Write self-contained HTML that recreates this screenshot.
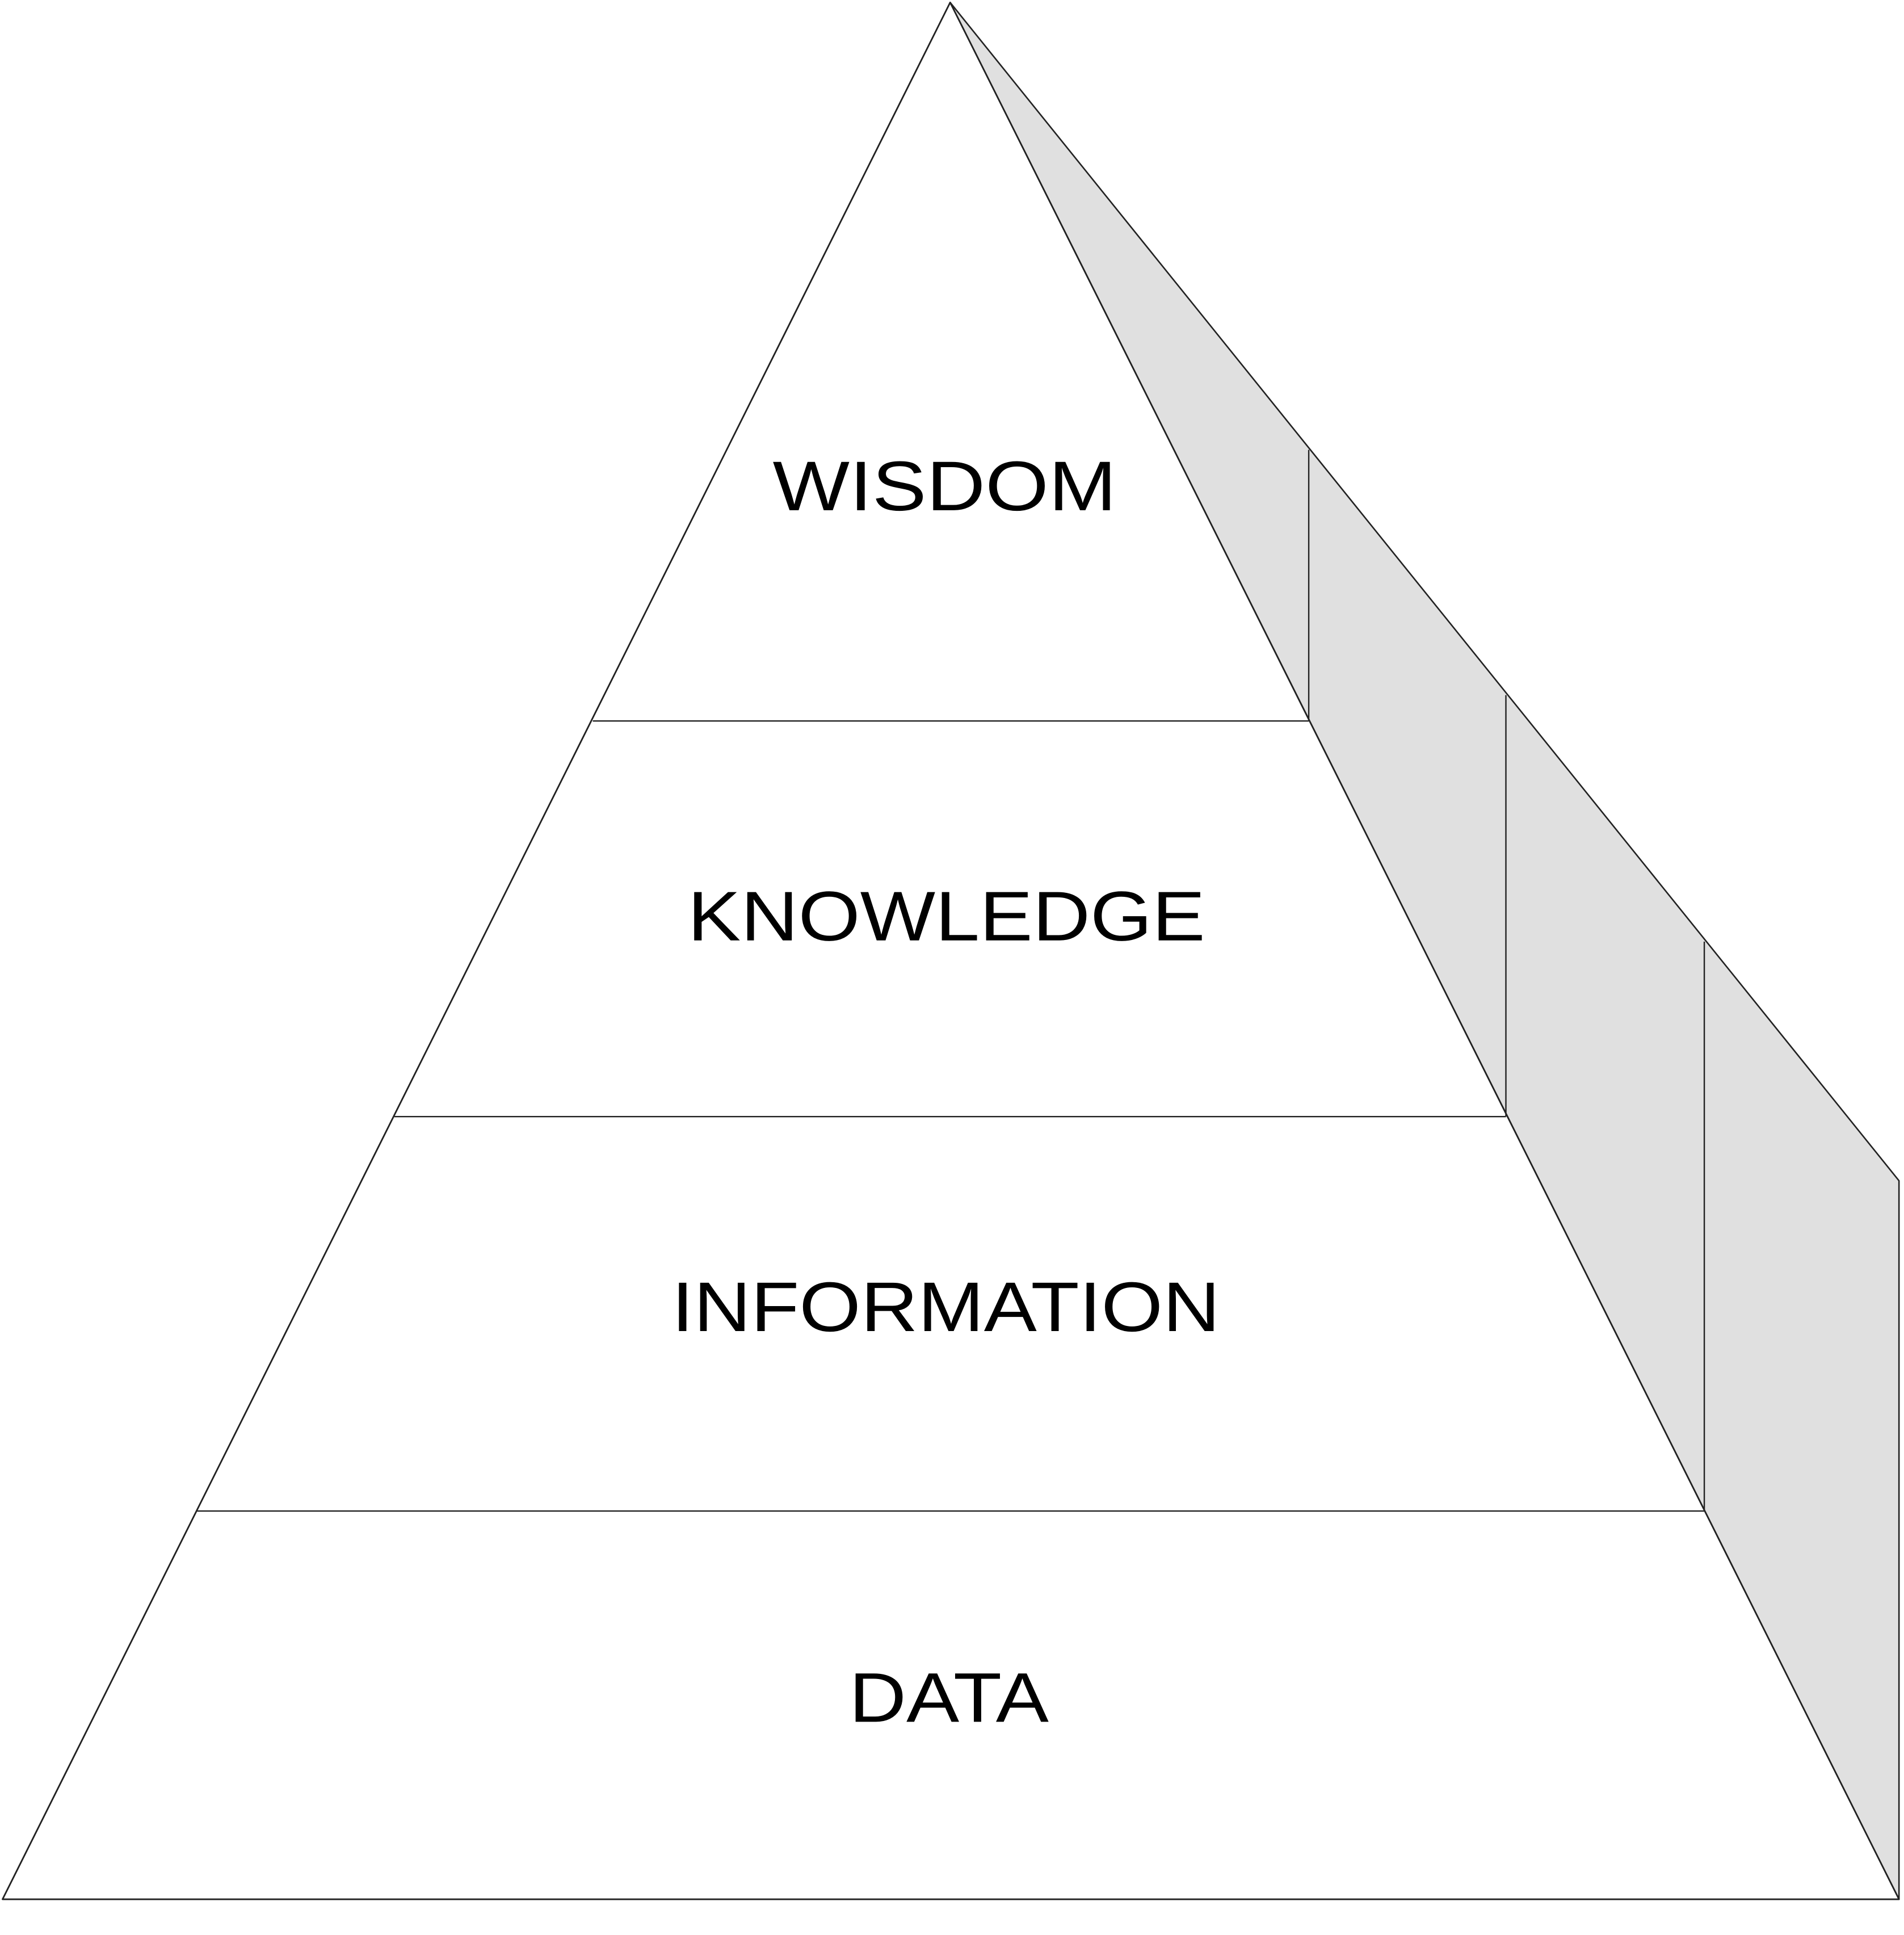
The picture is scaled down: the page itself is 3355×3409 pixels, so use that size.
<!DOCTYPE html>
<html><head><meta charset="utf-8"><style>
html,body{margin:0;padding:0;background:#fff;}
svg{display:block;}
</style></head><body>
<svg width="3355" height="3409" viewBox="0 0 1545 1570" xmlns="http://www.w3.org/2000/svg">
<rect width="1545" height="1570" fill="#fff"/>
<polygon points="771,2 1541,958 1541,1541 771,2" fill="#e0e0e0"/>
<polygon points="771,2 1541,1541 1541,958" fill="#e0e0e0" stroke="#222" stroke-width="1.2" stroke-linejoin="round"/>
<polygon points="771,2 2,1541 1541,1541" fill="#fff" stroke="#222" stroke-width="1.3" stroke-linejoin="round"/>
<g stroke="#222" stroke-width="1.1">
<line x1="481" y1="585" x2="1062" y2="585"/>
<line x1="320" y1="906" x2="1222" y2="906"/>
<line x1="160" y1="1226" x2="1383" y2="1226"/>
<line x1="1062" y1="365" x2="1062" y2="585"/>
<line x1="1222" y1="564" x2="1222" y2="906"/>
<line x1="1383" y1="764" x2="1383" y2="1226"/>
</g>
<g font-family="Liberation Sans, sans-serif" font-size="57" fill="#000" lengthAdjust="spacingAndGlyphs">
<text x="627" y="414" textLength="279" lengthAdjust="spacingAndGlyphs">WISDOM</text>
<text x="558" y="763" textLength="420" lengthAdjust="spacingAndGlyphs">KNOWLEDGE</text>
<text x="545" y="1080" textLength="445" lengthAdjust="spacingAndGlyphs">INFORMATION</text>
<text x="689" y="1397" textLength="162" lengthAdjust="spacingAndGlyphs">DATA</text>
</g>
</svg>
</body></html>
